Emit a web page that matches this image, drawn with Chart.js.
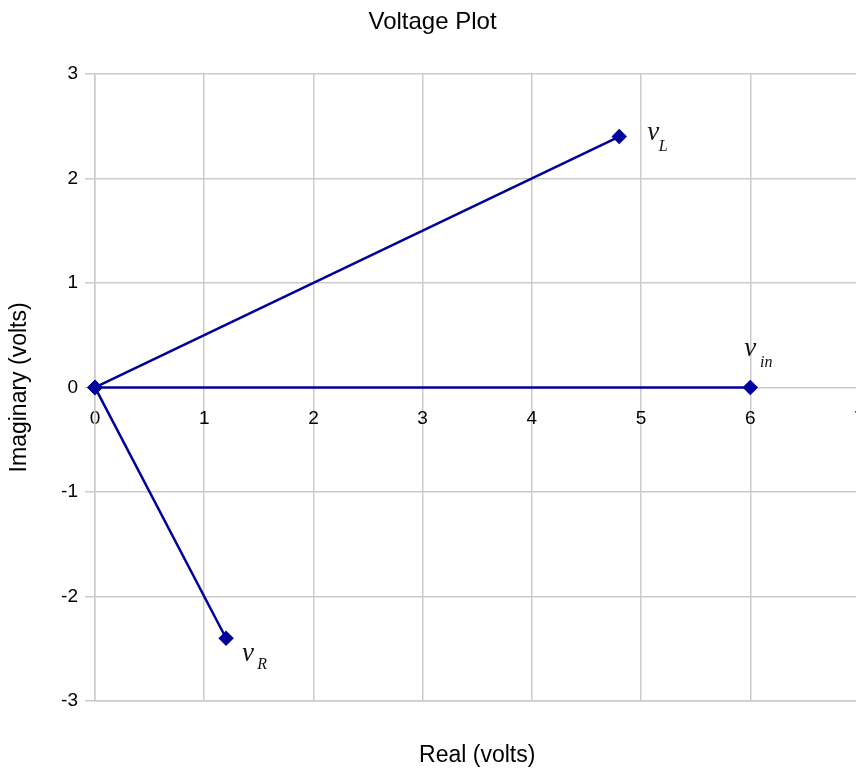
<!DOCTYPE html>
<html>
<head>
<meta charset="utf-8">
<script src="https://cdn.jsdelivr.net/npm/chart.js@4"></script>
<style>
  html, body { margin: 0; padding: 0; background: #fff; overflow: hidden; }
  #wrap { width: 868px; height: 769px; }
</style>
</head>
<body>
<div id="wrap"><canvas id="voltageChart"></canvas></div>
<script>
// phasor end points (real, imaginary), all drawn from the origin
const phasorNames = ['L', 'in', 'R'];
const realParts = [4.8, 6, 1.2];
const imagParts = [2.4, 0, -2.4];
const xTicks = [0, 1, 2, 3, 4, 5, 6, 7];
const yTicks = [-3, -2, -1, 0, 1, 2, 3];

const lineColor = '#00009a';
const gridColor = '#cbcbcb';
const sans = '"Liberation Sans", Arial, sans-serif';

const datasets = phasorNames.map((name, i) => ({
  label: 'v' + name,
  data: [{ x: 0, y: 0 }, { x: realParts[i], y: imagParts[i] }],
  borderColor: lineColor,
  backgroundColor: lineColor,
  borderWidth: 2.5,
  pointStyle: 'rectRot',
  pointRadius: 6,
  pointHoverRadius: 6,
  showLine: true,
  clip: false,
  tension: 0
}));

// where each "v_x" label sits, relative to the tip of its phasor (px)
const labelOffsets = {
  L:  { v: [34, -4], sub: [44, 10] },
  in: { v: [0, -38], sub: [16, -25] },
  R:  { v: [22, 16], sub: [36, 27] }
};

const phasorLabels = {
  id: 'phasorLabels',
  afterDatasetsDraw(chart) {
    const { ctx, scales: { x, y } } = chart;
    ctx.save();
    ctx.fillStyle = '#111';
    ctx.textAlign = 'center';
    ctx.textBaseline = 'middle';
    phasorNames.forEach((name, i) => {
      const px = x.getPixelForValue(realParts[i]);
      const py = y.getPixelForValue(imagParts[i]);
      const off = labelOffsets[name];
      ctx.font = 'italic 27px "Liberation Serif", "DejaVu Serif", serif';
      ctx.fillText('v', px + off.v[0], py + off.v[1]);
      ctx.font = 'italic 16px "Liberation Serif", "DejaVu Serif", serif';
      ctx.fillText(name, px + off.sub[0], py + off.sub[1]);
    });
    ctx.restore();
  }
};

const noSidePadding = s => { s.paddingLeft = 0; s.paddingRight = 0; };

new Chart(document.getElementById('voltageChart'), {
  type: 'scatter',
  data: { datasets },
  plugins: [phasorLabels],
  options: {
    responsive: true,
    maintainAspectRatio: false,
    animation: false,
    layout: { padding: { left: 0, right: 3, top: 0, bottom: 0 } },
    plugins: {
      legend: { display: false },
      tooltip: { enabled: false },
      title: {
        display: true,
        text: 'Voltage Plot',
        color: '#000',
        font: { family: sans, size: 24, weight: 'normal' },
        padding: { top: 8, bottom: 37 }
      }
    },
    scales: {
      x: {
        type: 'linear',
        position: 'bottom',
        min: 0,
        max: 7,
        afterBuildTicks: s => { s.ticks = xTicks.map(v => ({ value: v })); },
        afterFit: s => { s.height = 68; noSidePadding(s); },
        ticks: { display: false },
        grid: { color: gridColor, lineWidth: 1.5, drawTicks: false },
        border: { color: gridColor, width: 1.5 },
        title: {
          display: true,
          text: 'Real (volts)',
          color: '#000',
          font: { family: sans, size: 23 },
          padding: { top: 0, bottom: 0 }
        }
      },
      xz: {
        type: 'linear',
        axis: 'x',
        position: { y: 0 },
        min: 0,
        max: 7,
        afterBuildTicks: s => { s.ticks = xTicks.map(v => ({ value: v })); },
        afterFit: noSidePadding,
        grid: { display: false, drawTicks: false },
        border: { display: false },
        ticks: {
          color: '#000',
          padding: 20,
          autoSkip: false,
          maxRotation: 0,
          font: { family: sans, size: 19 }
        }
      },
      y: {
        type: 'linear',
        min: -3,
        max: 3,
        afterBuildTicks: s => { s.ticks = yTicks.map(v => ({ value: v })); },
        afterFit: s => { s.width = 95; },
        ticks: {
          color: '#000',
          padding: 7,
          font: { family: sans, size: 19 }
        },
        grid: { color: gridColor, lineWidth: 1.5, tickLength: 10 },
        border: { color: gridColor, width: 1.5 },
        title: {
          display: true,
          text: 'Imaginary (volts)',
          color: '#000',
          font: { family: sans, size: 23 },
          padding: { top: 6, bottom: 0 }
        }
      }
    }
  }
});
</script>
</body>
</html>
